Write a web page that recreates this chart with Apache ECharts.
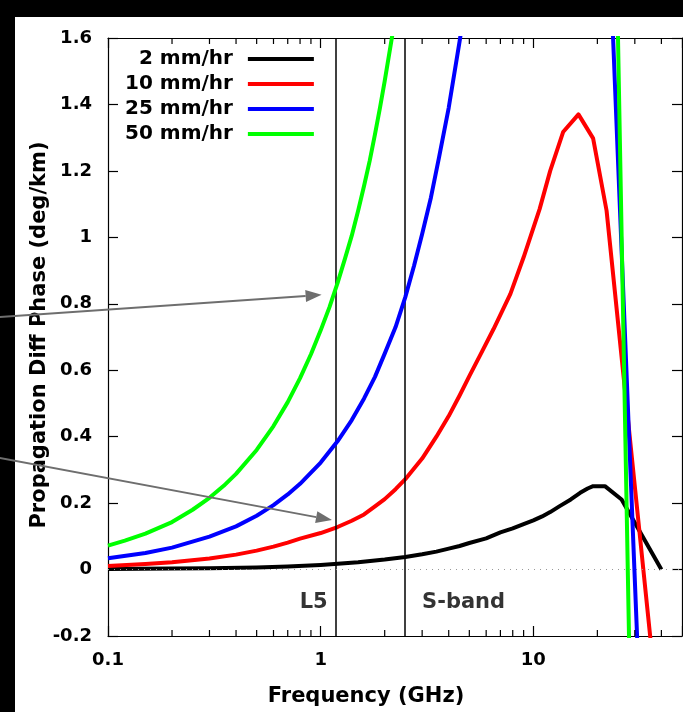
<!DOCTYPE html>
<html>
<head>
<meta charset="utf-8">
<script src="https://cdn.jsdelivr.net/npm/echarts@6/dist/echarts.min.js"></script>
<style>
  html, body { margin: 0; padding: 0; background: #000; }
  #chart { width: 683px; height: 712px; }
</style>
</head>
<body>
<div id="chart"></div>
<script>
// Propagation differential phase vs frequency for four rain rates
const rainRates = ['2 mm/hr', '10 mm/hr', '25 mm/hr', '50 mm/hr'];
const rainColors = ['#000000', '#ff0000', '#0000ff', '#00ff00'];

// [frequency GHz, deg/km]
const phase2 = [
  [0.1, 0.002], [0.2, 0.003], [0.3, 0.004], [0.5, 0.006], [0.7, 0.009], [1.0, 0.014],
  [1.5, 0.022], [2, 0.030], [2.5, 0.038], [3, 0.046], [3.5, 0.054], [4, 0.063],
  [4.5, 0.071], [5, 0.080], [6, 0.094], [7, 0.112], [8, 0.124], [9, 0.137], [10, 0.148],
  [11, 0.160], [12, 0.173], [13.3, 0.191], [15, 0.211], [16.6, 0.231], [18, 0.244],
  [19.1, 0.251], [21.7, 0.251], [26, 0.211], [40, 0.0]
];
const phase10 = [
  [0.1, 0.011], [0.15, 0.017], [0.2, 0.022], [0.3, 0.033], [0.4, 0.045], [0.5, 0.057],
  [0.6, 0.069], [0.7, 0.081], [0.8, 0.093], [1.0, 0.110], [1.2, 0.128], [1.4, 0.147],
  [1.6, 0.166], [1.8, 0.190], [2.0, 0.212], [2.25, 0.242], [2.5, 0.272], [3.0, 0.334],
  [3.5, 0.400], [4.0, 0.462], [4.5, 0.524], [5.0, 0.582], [5.6, 0.643], [6.5, 0.724],
  [7.8, 0.830], [9, 0.940], [10.7, 1.085], [12, 1.200], [13.8, 1.317], [16.3, 1.370],
  [19.1, 1.298], [22.1, 1.080], [40, -0.53]
];
const phase25 = [
  [0.1, 0.034], [0.15, 0.050], [0.2, 0.066], [0.3, 0.099], [0.4, 0.130], [0.5, 0.162],
  [0.6, 0.194], [0.7, 0.226], [0.8, 0.258], [1.0, 0.322], [1.2, 0.386], [1.4, 0.450],
  [1.6, 0.515], [1.8, 0.580], [2.0, 0.650], [2.25, 0.730], [2.5, 0.820], [2.75, 0.915],
  [3.0, 1.010], [3.3, 1.120], [3.6, 1.240], [4.0, 1.390], [4.5, 1.590], [5, 1.78],
  [8, 2.4], [12, 2.7], [20, 2.78], [35, -1.10]
];
const phase50 = [
  [0.1, 0.072], [0.12, 0.087], [0.15, 0.108], [0.2, 0.143], [0.25, 0.180], [0.3, 0.216],
  [0.35, 0.252], [0.4, 0.288], [0.5, 0.360], [0.6, 0.432], [0.7, 0.504], [0.8, 0.576],
  [0.9, 0.648], [1.0, 0.720], [1.1, 0.790], [1.2, 0.862], [1.3, 0.935], [1.4, 1.005],
  [1.5, 1.080], [1.6, 1.155], [1.7, 1.230], [1.8, 1.310], [1.9, 1.390], [2.0, 1.470],
  [2.2, 1.630], [2.5, 1.86], [3, 2.2], [5, 3.0], [10, 4.2], [20, 4.97], [30, -1.15]
];
const curves = [phase2, phase10, phase25, phase50];

// Navigation bands marked on the frequency axis
const bandNames = ['L5', 'S-band'];
const bandFreqs = [1.17645, 2.492028];

// Axis ranges and ticks
const freqMin = 0.1, freqMax = 50;
const phaseMin = -0.2, phaseMax = 1.6, phaseStep = 0.2;
const freqTickLabels = ['0.1', '1', '10'];
const minorTickFreqs = [0.2, 0.3, 0.4, 0.5, 0.6, 0.7, 0.8, 0.9,
                        2, 3, 4, 5, 6, 7, 8, 9, 20, 30, 40];

// Annotation arrows pointing at the L5 crossings, in data coordinates
const arrowNotes = [
  { from: [0.031, 0.760], to: [1.01, 0.827] },
  { from: [0.031, 0.336], to: [1.13, 0.149] }
];

const FONT = "'DejaVu Sans', sans-serif";
const chart = echarts.init(document.getElementById('chart'), null, { renderer: 'canvas' });

function freqLabel(v) {
  const lg = Math.log10(v);
  const idx = Math.round(lg) + 1;
  if (Math.abs(lg - Math.round(lg)) < 1e-6 && idx >= 0 && idx < freqTickLabels.length) {
    return freqTickLabels[idx];
  }
  return '';
}

const axisLineStyle = { color: '#000', width: 1.2 };
const tickStyle = { color: '#000', width: 1.2 };

chart.setOption({
  animation: false,
  backgroundColor: '#ffffff',
  grid: { left: 108, right: 1, top: 38, bottom: 76, outerBoundsMode: 'none', containLabel: false },
  xAxis: [
    {
      type: 'log', logBase: 10, min: freqMin, max: freqMax, position: 'bottom',
      axisLine: { show: true, onZero: false, lineStyle: axisLineStyle },
      axisTick: { show: true, inside: true, length: 10, lineStyle: tickStyle },
      axisLabel: {
        show: true, margin: 15, color: '#000', fontFamily: FONT, fontWeight: 'bold', fontSize: 18,
        formatter: freqLabel
      },
      splitLine: { show: false }, minorTick: { show: false }, minorSplitLine: { show: false }
    },
    {
      type: 'log', logBase: 10, min: freqMin, max: freqMax, position: 'top',
      axisLine: { show: true, onZero: false, lineStyle: axisLineStyle },
      axisTick: { show: true, inside: true, length: 10, lineStyle: tickStyle },
      axisLabel: { show: false }, splitLine: { show: false }
    }
  ],
  yAxis: [
    {
      type: 'value', min: phaseMin, max: phaseMax, interval: phaseStep, position: 'left',
      axisLine: { show: true, onZero: false, lineStyle: axisLineStyle },
      axisTick: { show: true, inside: true, length: 10, lineStyle: tickStyle },
      axisLabel: { show: true, margin: 16, color: '#000', fontFamily: FONT, fontWeight: 'bold', fontSize: 18 },
      splitLine: { show: false }
    },
    {
      type: 'value', min: phaseMin, max: phaseMax, interval: phaseStep, position: 'right',
      axisLine: { show: true, onZero: false, lineStyle: axisLineStyle },
      axisTick: { show: true, inside: true, length: 10, lineStyle: tickStyle },
      axisLabel: { show: false }, splitLine: { show: false }
    }
  ],
  legend: {
    data: rainRates, orient: 'vertical', align: 'right', left: 125, top: 47, padding: 0,
    itemWidth: 66, itemHeight: 4, icon: 'rect', itemGap: 1, selectedMode: false,
    textStyle: { fontFamily: FONT, fontWeight: 'bold', fontSize: 20, color: '#000',
                 lineHeight: 24, padding: [0, 10, 0, 0] }
  },
  series: [
    // minor log ticks on the top and bottom frame
    {
      type: 'custom', name: 'minor', silent: true, z: 10,
      data: minorTickFreqs.map(f => [f, phaseMin]),
      encode: { x: 0, y: 1 },
      renderItem: function (params, api) {
        const f = api.value(0);
        const b = api.coord([f, phaseMin]);
        const t = api.coord([f, phaseMax]);
        return {
          type: 'group',
          children: [
            { type: 'line', shape: { x1: b[0], y1: b[1], x2: b[0], y2: b[1] - 6 },
              style: { stroke: '#000', lineWidth: 1.2 } },
            { type: 'line', shape: { x1: t[0], y1: t[1], x2: t[0], y2: t[1] + 6 },
              style: { stroke: '#000', lineWidth: 1.2 } }
          ]
        };
      }
    },
    // band labels
    {
      type: 'scatter', name: 'bands', silent: true, symbolSize: 0.1,
      itemStyle: { color: 'transparent' },
      data: bandFreqs.map((f, i) => ({
        value: [f, -0.1], name: bandNames[i],
        label: {
          show: true, formatter: bandNames[i],
          position: i === 0 ? 'left' : 'right', distance: i === 0 ? 8 : 17,
          color: '#000', fontFamily: FONT, fontWeight: 'bold', fontSize: 21
        }
      }))
    }
  ].concat(curves.map((d, i) => ({
    name: rainRates[i], type: 'line', data: d, symbol: 'none', showSymbol: false,
    clip: true, z: 3 + i,
    lineStyle: { color: rainColors[i], width: 4, join: 'round' },
    itemStyle: { color: rainColors[i] },
    markLine: i === 0 ? {
      silent: true, symbol: 'none', label: { show: false },
      data: [
        { xAxis: bandFreqs[0], lineStyle: { color: '#000', width: 1.5, type: 'solid' } },
        { xAxis: bandFreqs[1], lineStyle: { color: '#000', width: 1.5, type: 'solid' } },
        { yAxis: 0, lineStyle: { color: '#999', width: 1, type: [1, 5] } }
      ]
    } : undefined
  })))
});

// Overlay: black page margin, axis titles and annotation arrows
const graphics = [
  { type: 'rect', shape: { x: 0, y: 0, width: 683, height: 17 }, style: { fill: '#000' }, z: 90 },
  { type: 'rect', shape: { x: 0, y: 0, width: 15, height: 712 }, style: { fill: '#000' }, z: 90 },
  { type: 'text', x: 366, y: 697, z: 95,
    style: { text: 'Frequency (GHz)', fill: '#000', font: "bold 21px " + FONT,
             textAlign: 'center', textVerticalAlign: 'middle' } },
  { type: 'text', x: 40, y: 335, rotation: Math.PI / 2, z: 95,
    style: { text: 'Propagation Diff Phase (deg/km)', fill: '#000', font: "bold 21px " + FONT,
             textAlign: 'center', textVerticalAlign: 'middle' } }
];
arrowNotes.forEach(a => {
  const p0 = chart.convertToPixel({ xAxisIndex: 0, yAxisIndex: 0 }, a.from);
  const p1 = chart.convertToPixel({ xAxisIndex: 0, yAxisIndex: 0 }, a.to);
  const dx = p1[0] - p0[0], dy = p1[1] - p0[1];
  const len = Math.hypot(dx, dy), ux = dx / len, uy = dy / len;
  const L = 16, W = 6;
  const bx = p1[0] - L * ux, by = p1[1] - L * uy;
  graphics.push({ type: 'line', z: 100,
    shape: { x1: p0[0], y1: p0[1], x2: bx, y2: by },
    style: { stroke: '#6e6e6e', lineWidth: 2 } });
  graphics.push({ type: 'polygon', z: 100,
    shape: { points: [[p1[0], p1[1]], [bx - W * uy, by + W * ux], [bx + W * uy, by - W * ux]] },
    style: { fill: '#6e6e6e' } });
});
chart.setOption({ graphic: graphics });
</script>
</body>
</html>
